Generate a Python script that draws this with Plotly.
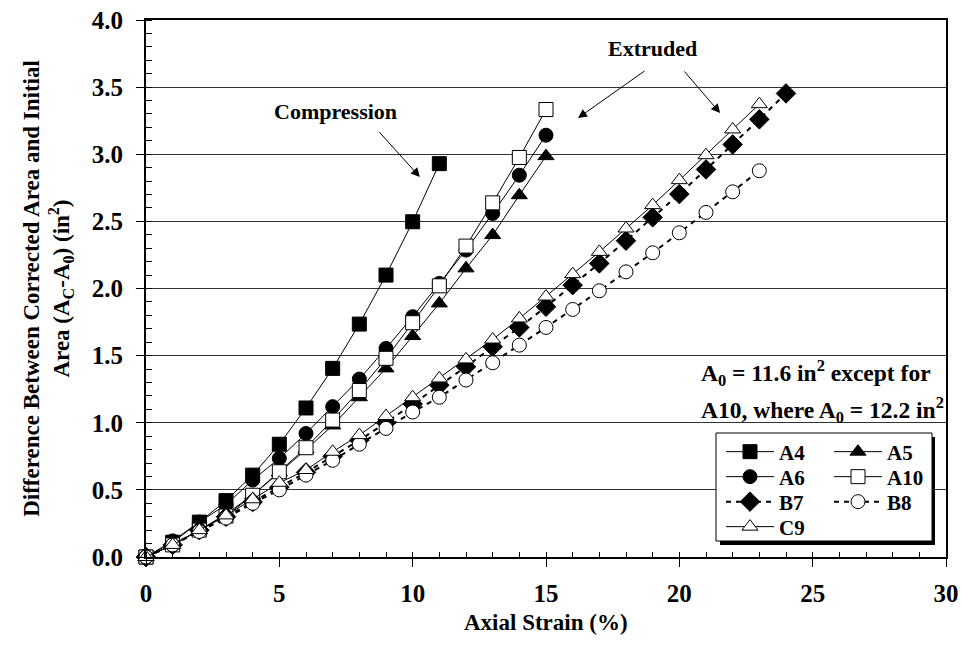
import plotly.graph_objects as go

# Difference between corrected and initial area (in^2) at each axial strain step (%)
a4 = [0, 0.11, 0.26, 0.42, 0.61, 0.84, 1.11, 1.405, 1.735, 2.10, 2.497, 2.93]
a5 = [0, 0.09, 0.20, 0.32, 0.46, 0.63, 0.80, 0.98, 1.19, 1.405, 1.646, 1.889, 2.15, 2.398, 2.695, 2.986]
a6 = [0, 0.12, 0.26, 0.39, 0.573, 0.735, 0.92, 1.12, 1.325, 1.554, 1.79, 2.038, 2.286, 2.559, 2.844, 3.142]
a10 = [0, 0.09, 0.20, 0.305, 0.46, 0.635, 0.814, 1.02, 1.24, 1.48, 1.745, 2.02, 2.316, 2.638, 2.976, 3.333]
b7 = [0, 0.09, 0.20, 0.30, 0.41, 0.52, 0.63, 0.75, 0.87, 1.00, 1.14, 1.28, 1.417, 1.566, 1.71, 1.864,
      2.025, 2.187, 2.356, 2.53, 2.703, 2.887, 3.073, 3.26, 3.453]
b8 = [0, 0.09, 0.19, 0.29, 0.40, 0.50, 0.61, 0.72, 0.84, 0.958, 1.08, 1.19, 1.318, 1.447, 1.578, 1.71,
      1.844, 1.983, 2.124, 2.266, 2.415, 2.567, 2.72, 2.877]
c9 = [0, 0.09, 0.20, 0.31, 0.43, 0.553, 0.648, 0.784, 0.908, 1.05, 1.19, 1.33, 1.472, 1.62, 1.777, 1.94,
      2.107, 2.273, 2.447, 2.621, 2.807, 2.993, 3.185, 3.373]

x_ticks = [0, 5, 10, 15, 20, 25, 30]
y_ticks = [0.0, 0.5, 1.0, 1.5, 2.0, 2.5, 3.0, 3.5, 4.0]

FONT = "Liberation Serif"
W, H = 962, 647
L, R, T, B = 146, 16, 20, 90
PW, PH = W - L - R, H - T - B


def px_x(p):
    return (p - L) / PW


def px_y(p):
    return (H - B - p) / PH


series = [
    # name, values, symbol, fill, dash, legend id, legend x px, legend y px
    ("A4", a4, "square", "black", "solid", "legend", 721, 452),
    ("A5", a5, "triangle-up", "black", "solid", "legend2", 829, 452),
    ("A6", a6, "circle", "black", "solid", "legend3", 721, 477),
    ("A10", a10, "square", "white", "solid", "legend4", 829, 477),
    ("B7", b7, "diamond", "black", "dash", "legend5", 721, 502),
    ("B8", b8, "circle", "white", "dash", "legend6", 829, 502),
    ("C9", c9, "triangle-up", "white", "solid", "legend7", 721, 527),
]

fig = go.Figure()
legends = {}
for name, vals, sym, fill, dash, lg, lx, ly in series:
    dashed = dash == "dash"
    fig.add_trace(go.Scatter(
        x=list(range(len(vals))), y=vals, name=name, mode="lines+markers",
        line=dict(color="black", width=2 if dashed else 1, dash="5px,5px" if dashed else "solid"),
        marker=dict(symbol=sym, size=14 if sym != "diamond" else 15, color=fill,
                    line=dict(color="black", width=1)),
        cliponaxis=False, legend=lg,
    ))
    legends[lg] = dict(
        x=px_x(lx), y=px_y(ly), xanchor="left", yanchor="middle",
        bgcolor="rgba(0,0,0,0)", borderwidth=0, itemwidth=48,
        font=dict(family=FONT, size=21, color="black", weight="bold"),
    )

# legend frame with drop shadow
shapes = [
    dict(type="rect", xref="paper", yref="paper", layer="above",
         x0=px_x(720), x1=px_x(935), y0=px_y(545), y1=px_y(437),
         fillcolor="black", line=dict(width=0)),
    dict(type="rect", xref="paper", yref="paper", layer="above",
         x0=px_x(716), x1=px_x(932), y0=px_y(541), y1=px_y(433),
         fillcolor="white", line=dict(color="black", width=1)),
]

ann_font = dict(family=FONT, size=22, color="black", weight="bold")
note_font = dict(family=FONT, size=23.5, color="black", weight="bold")
title_font = dict(family=FONT, size=23, color="black", weight="bold")
annotations = [
    dict(x=7.09, y=3.315, text="Compression", showarrow=False, font=ann_font),
    dict(x=18.98, y=3.79, text="Extruded", showarrow=False, font=ann_font),
    dict(x=20.75, y=1.37, xanchor="left", showarrow=False, font=note_font,
         text="A<sub>0</sub> = 11.6 in<sup>2</sup> except for"),
    dict(x=20.75, y=1.095, xanchor="left", showarrow=False, font=note_font,
         text="A10, where A<sub>0</sub> = 12.2 in<sup>2</sup>"),
    # x-axis title
    dict(x=0.5, y=px_y(622), xref="paper", yref="paper", yanchor="middle",
         text="Axial Strain (%)", showarrow=False, font=title_font),
]
for (tx, ty), (hx, hy) in [((8.7, 3.176), (10.27, 2.83)),
                           ((18.75, 3.628), (16.2, 3.27)),
                           ((20.14, 3.628), (21.53, 3.307))]:
    annotations.append(dict(x=hx, y=hy, ax=tx, ay=ty, xref="x", yref="y", axref="x", ayref="y",
                            text="", showarrow=True, arrowhead=2, arrowsize=1.8,
                            arrowwidth=1, arrowcolor="black", standoff=0, startstandoff=0))

tick_font = dict(family=FONT, size=25, color="black", weight="bold")

fig.update_layout(
    width=W, height=H, margin=dict(l=L, r=R, t=T, b=B, autoexpand=False),
    paper_bgcolor="white", plot_bgcolor="white",
    shapes=shapes, annotations=annotations,
    xaxis=dict(
        range=[0, 30], tickvals=x_ticks, ticktext=[str(v) for v in x_ticks],
        ticks="outside", ticklen=8, tickwidth=1, tickcolor="black",
        minor=dict(dtick=1, ticks="inside", ticklen=5, tickcolor="black", tickwidth=1, showgrid=False),
        showline=True, linecolor="black", linewidth=2, mirror=True, automargin=False,
        showgrid=False, zeroline=False, tickfont=tick_font, ticklabelstandoff=5,
    ),
    yaxis=dict(
        range=[0, 4], tickvals=y_ticks, ticktext=[f"{v:.1f}" for v in y_ticks],
        ticks="outside", ticklen=8, tickwidth=1, tickcolor="black",
        minor=dict(dtick=0.1, ticks="inside", ticklen=6, tickcolor="black", tickwidth=1, showgrid=False),
        showline=True, linecolor="black", linewidth=2, mirror=True, automargin=False,
        showgrid=True, gridcolor="#333333", gridwidth=1, zeroline=False,
        tickfont=tick_font, ticklabelstandoff=8,
        title=dict(text="Difference Between Corrected Area and Initial<br>Area (A<sub>C</sub>-A<sub>0</sub>) (in<sup>2</sup>)",
                   font=title_font, standoff=16),
    ),
    # inner halves of the major ticks
    xaxis2=dict(overlaying="x", matches="x", anchor="y", side="bottom", tickvals=x_ticks,
                ticks="inside", ticklen=5, tickcolor="black", showticklabels=False,
                showgrid=False, showline=False, zeroline=False),
    yaxis2=dict(overlaying="y", matches="y", anchor="x", side="left", tickvals=y_ticks,
                ticks="inside", ticklen=6, tickcolor="black", showticklabels=False,
                showgrid=False, showline=False, zeroline=False),
    **legends,
)

# invisible trace so the overlay axes are drawn
fig.add_trace(go.Scatter(x=[0], y=[0], xaxis="x2", yaxis="y2", mode="markers",
                         marker=dict(opacity=0), showlegend=False, hoverinfo="skip"))

fig.write_html("out.html")
